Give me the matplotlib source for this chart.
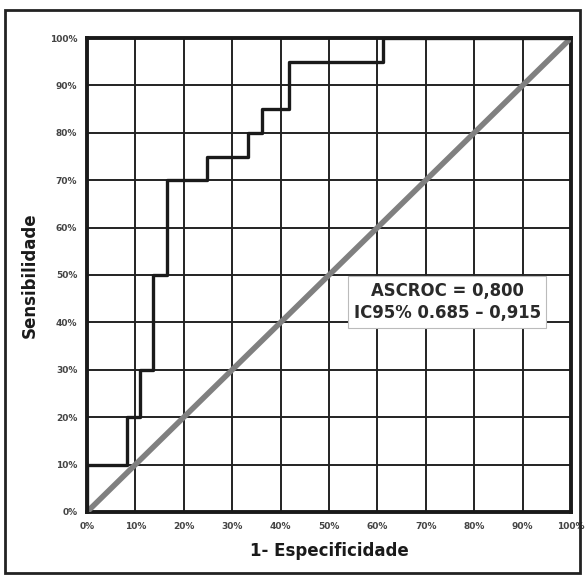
import matplotlib.pyplot as plt
from matplotlib.patches import Rectangle

# ROC staircase (percent)
fpr = [0, 0, 8.3, 8.3, 11, 11, 13.6, 13.6, 16.5, 16.5, 24.8, 24.8,
       33.3, 33.3, 36.2, 36.2, 41.7, 41.7, 61.2, 61.2, 100]
tpr = [0, 10, 10, 20, 20, 30, 30, 50, 50, 70, 70, 75,
       75, 80, 80, 85, 85, 95, 95, 100, 100]
ticks = list(range(0, 101, 10))
tick_labels = [str(t) + '%' for t in ticks]
box_text = 'ASCROC = 0,800\nIC95% 0.685 \u2013 0,915'

fig = plt.figure(figsize=(5.85, 5.75), dpi=100)
ax = fig.add_axes([0.1487, 0.1096, 0.8274, 0.8243])

# outer frame around the whole figure
fig.patches.append(Rectangle((0.009, 0.003), 0.983, 0.98, transform=fig.transFigure,
                             fill=False, edgecolor='#222222', linewidth=2))

ax.set_xlim(0, 100)
ax.set_ylim(0, 100)
ax.set_xticks(ticks)
ax.set_yticks(ticks)
ax.set_xticklabels(tick_labels, fontsize=6.5, fontweight='bold', color='#444444')
ax.set_yticklabels(tick_labels, fontsize=6.5, fontweight='bold', color='#444444')
ax.tick_params(length=0, pad=7)
ax.grid(True, color='#222222', linewidth=1.4)
ax.set_axisbelow(True)
for s in ax.spines.values():
    s.set_linewidth(2.8)
    s.set_color('#1a1a1a')

ax.plot([0, 100], [0, 100], color='#808080', linewidth=4, solid_capstyle='butt', zorder=3)
ax.plot(fpr, tpr, color='#1a1a1a', linewidth=2.4, zorder=4)

ax.text(74.4, 44.3, box_text, ha='center', va='center', fontsize=11.9,
        fontweight='bold', color='#2a2a2a', linespacing=1.3, zorder=5,
        bbox=dict(boxstyle='square,pad=0.35', facecolor='white', edgecolor='#bbbbbb', linewidth=0.8))

ax.set_xlabel('1- Especificidade', fontsize=12, fontweight='bold', color='#1a1a1a', labelpad=8)
ax.set_ylabel('Sensibilidade', fontsize=12, fontweight='bold', color='#1a1a1a', labelpad=8)

fig.savefig('out.png', dpi=100)
